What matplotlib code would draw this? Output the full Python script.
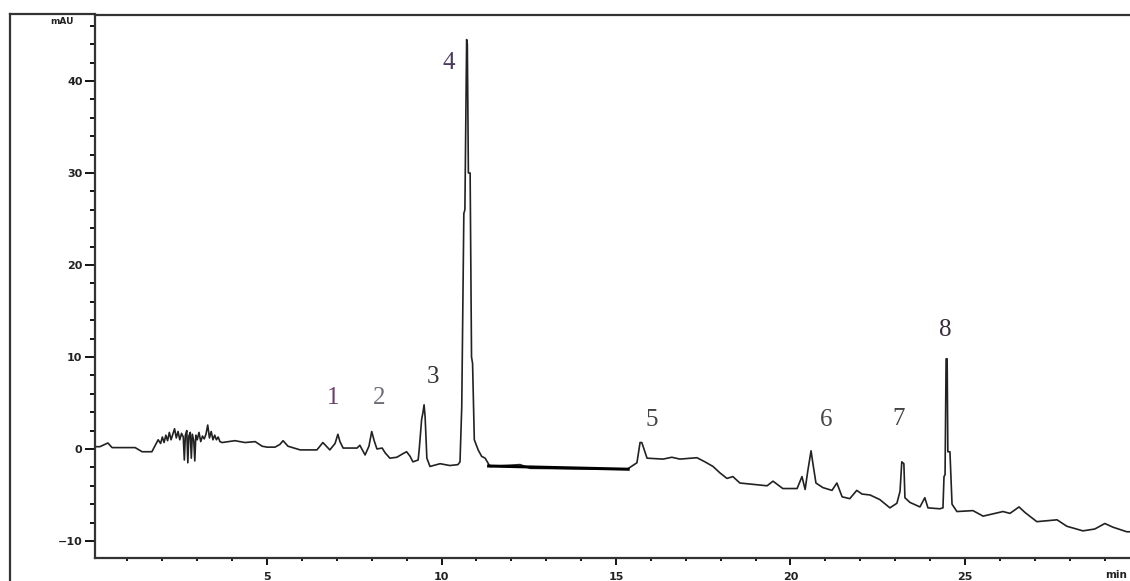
import matplotlib
matplotlib.use("Agg")
import matplotlib.pyplot as plt
from matplotlib.ticker import MultipleLocator
from matplotlib.lines import Line2D

# ---- trace (time in min, signal in mAU) ----
time = [0.07, 0.21, 0.44, 0.56, 1.22, 1.42, 1.70, 1.88,
        1.95, 2.00, 2.05, 2.10, 2.15, 2.20, 2.25, 2.30, 2.35, 2.40, 2.45, 2.50,
        2.55, 2.60, 2.63, 2.66, 2.70, 2.73, 2.76, 2.80, 2.83, 2.86, 2.90, 2.93,
        2.96, 3.00, 3.05, 3.10, 3.15, 3.20, 3.25, 3.30, 3.35, 3.40, 3.45, 3.50,
        3.55, 3.60, 3.65, 3.71,
        4.08, 4.37, 4.66, 4.86, 5.00, 5.23, 5.37, 5.46, 5.60, 5.95, 6.43, 6.60,
        6.80, 6.95, 7.03, 7.09, 7.18, 7.58, 7.66, 7.81, 7.92, 8.00, 8.07, 8.15,
        8.30, 8.38, 8.52, 8.72, 8.90, 9.00, 9.10, 9.18, 9.33, 9.36, 9.43, 9.47,
        9.50, 9.53, 9.58, 9.67, 9.96, 10.24, 10.47, 10.53, 10.58, 10.64, 10.67,
        10.72, 10.74, 10.77, 10.82, 10.86, 10.89, 10.94, 11.05, 11.15, 11.25,
        11.39, 12.25, 12.54, 15.32, 15.60, 15.69, 15.74, 15.89, 16.35, 16.60,
        16.83, 17.32, 17.55, 17.78, 17.98, 18.18, 18.35, 18.55, 19.33, 19.50,
        19.78, 20.19, 20.33, 20.42, 20.50, 20.59, 20.64, 20.73, 20.93, 21.19,
        21.33, 21.48, 21.70, 21.90, 22.05, 22.28, 22.56, 22.85, 23.05, 23.14,
        23.19, 23.25, 23.28, 23.42, 23.71, 23.85, 23.94, 24.28, 24.37, 24.40,
        24.43, 24.46, 24.49, 24.51, 24.57, 24.63, 24.77, 25.23, 25.52, 26.09,
        26.29, 26.55, 26.72, 27.06, 27.64, 27.92, 28.38, 28.72, 29.01, 29.24,
        29.64, 29.73]
signal = [0.25, 0.25, 0.65, 0.15, 0.15, -0.3, -0.3, 1.0,
          0.6, 1.3, 0.7, 1.5, 0.9, 1.8, 1.0, 1.6, 2.2, 1.2, 1.9, 1.0,
          1.7, 1.3, -1.2, 1.5, 2.0, -1.5, 1.4, 1.8, -1.0, 1.6, 0.9, -1.3,
          1.5, 1.0, 1.8, 0.8, 1.4, 1.1, 1.6, 2.6, 1.2, 1.9, 1.0, 1.5,
          1.0, 1.3, 0.8, 0.7,
          0.9, 0.7, 0.8, 0.3, 0.2, 0.2, 0.5, 0.9, 0.3, -0.1, -0.1, 0.7,
          -0.1, 0.6, 1.6, 0.8, 0.1, 0.1, 0.4, -0.65, 0.3, 1.9, 0.9, 0.0,
          0.1, -0.4, -1.0, -0.9, -0.5, -0.3, -0.8, -1.4, -1.2, -0.1, 3.2, 4.0,
          4.8, 3.5, -1.0, -1.9, -1.6, -1.8, -1.7, -1.4, 4.6, 25.6, 26.0,
          44.5, 44.0, 30.0, 30.0, 10.0, 9.3, 1.0, -0.1, -0.8, -1.0,
          -1.9, -1.7, -2.1, -2.2, -1.5, 0.7, 0.7, -1.0, -1.1, -0.9,
          -1.1, -0.95, -1.4, -1.9, -2.6, -3.2, -3.0, -3.7, -4.0, -3.5,
          -4.3, -4.3, -3.0, -4.4, -2.3, -0.2, -1.5, -3.7, -4.2, -4.5,
          -3.7, -5.2, -5.4, -4.5, -4.9, -5.0, -5.5, -6.4, -5.9, -4.6,
          -1.4, -1.6, -5.3, -5.8, -6.3, -5.3, -6.4, -6.5, -6.4, -3.0,
          -2.8, 9.8, 9.8, -0.3, -0.3, -6.0, -6.8, -6.7, -7.3, -6.8,
          -7.0, -6.3, -6.9, -7.9, -7.7, -8.4, -8.9, -8.7, -8.1, -8.5,
          -9.0, -9.0]

# integration baseline drawn under peak 4 tail
base_t = [11.35, 15.35]
base_y = [-1.85, -2.2]

# peak numbers and where they are written
peak_ids = ["1", "2", "3", "4", "5", "6", "7", "8"]
label_t = [6.89, 8.21, 9.76, 10.22, 16.03, 21.02, 23.11, 24.43]
label_y = [5.5, 5.5, 7.8, 42.0, 3.2, 3.2, 3.3, 12.9]
label_colors = ["#6b3f6e", "#6e6e78", "#333333", "#4b3b5e",
                "#444444", "#444444", "#444444", "#3b2b3b"]

fig = plt.figure(figsize=(11.3, 5.81), dpi=100)
ax = fig.add_axes([95 / 1130, 23 / 581, 1035 / 1130, 543 / 581])

ax.plot(time, signal, color="#222222", lw=1.2)
ax.plot(base_t, base_y, color="black", lw=2.2)

for pid, t, y, c in zip(peak_ids, label_t, label_y, label_colors):
    ax.text(t, y, pid, family="Liberation Serif", fontsize=18, color=c,
            ha="center", va="center")

ax.set_xlim(0.07, 29.73)
ax.set_ylim(-11.85, 47.17)
ax.xaxis.set_major_locator(MultipleLocator(5))
ax.xaxis.set_minor_locator(MultipleLocator(1))
ax.yaxis.set_major_locator(MultipleLocator(10))
ax.yaxis.set_minor_locator(MultipleLocator(2))
ax.tick_params(axis="y", which="major", length=7, width=1.3, pad=2,
               labelsize=8)
ax.tick_params(axis="y", which="minor", length=3.5, width=1.3)
ax.tick_params(axis="x", which="major", length=5, width=1.3, pad=5,
               labelsize=8)
ax.tick_params(axis="x", which="minor", length=2.5, width=1.3)
for lab in ax.get_xticklabels() + ax.get_yticklabels():
    lab.set_fontweight("bold")
    lab.set_color("#222222")
ax.spines["right"].set_visible(False)
for s in ["left", "top", "bottom"]:
    ax.spines[s].set_linewidth(1.6)
    ax.spines[s].set_color("#333333")

fig.text(62 / 1130, 1 - 22 / 581, "mAU", fontsize=6.5, fontweight="bold",
         ha="center", va="center", color="#222222")
fig.text(1127 / 1130, 1 - 570 / 581, "min", fontsize=7.5, fontweight="bold",
         ha="right", va="top", color="#222222")

# outer frame of the instrument printout
fig.add_artist(Line2D([10 / 1130, 10 / 1130], [0, 1 - 14 / 581],
                      color="#333333", lw=1.6))
fig.add_artist(Line2D([10 / 1130, 95 / 1130], [1 - 14 / 581, 1 - 14 / 581],
                      color="#333333", lw=1.6))

fig.savefig("out.png", dpi=100)
